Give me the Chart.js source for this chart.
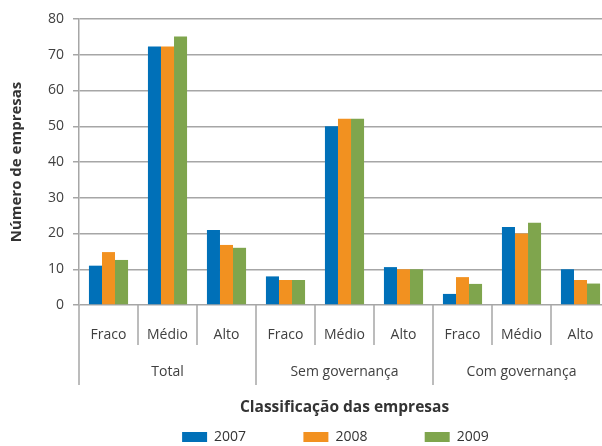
<!DOCTYPE html>
<html>
<head>
<meta charset="utf-8">
<script src="https://cdn.jsdelivr.net/npm/chart.js@4"></script>
<style>
  html, body { margin: 0; padding: 0; background: #fff; overflow: hidden; }
  #wrap { width: 610px; height: 454px; }
</style>
</head>
<body>
<div id="wrap"><canvas id="grafico"></canvas></div>
<script>
// dados
var anos = ['2007', '2008', '2009'];
var niveis = ['Fraco', 'Médio', 'Alto', 'Fraco', 'Médio', 'Alto', 'Fraco', 'Médio', 'Alto'];
var grupos = ['Total', 'Sem governança', 'Com governança'];
var valores2007 = [11, 72.3, 21, 8, 50, 10.6, 3.1, 21.8, 10];
var valores2008 = [14.8, 72.3, 16.8, 7, 52.1, 10, 7.8, 20, 7];
var valores2009 = [12.6, 75.1, 16, 7, 52.1, 10, 5.9, 23, 6];
var ticksY = [0, 10, 20, 30, 40, 50, 60, 70, 80];

var cores = ['#0070b8', '#f29120', '#7fa54d'];
var cinza = '#a6a6a6';

Chart.defaults.font.family = "'Open Sans', sans-serif";
Chart.defaults.font.size = 14;
Chart.defaults.color = '#404040';

// linhas divisórias das categorias no eixo x
var divisorias = {
    id: 'divisorias',
    afterDraw: function (chart) {
        var x = chart.scales.x;
        var ctx = chart.ctx;
        var y0 = chart.chartArea.bottom;
        ctx.save();
        ctx.strokeStyle = cinza;
        ctx.lineWidth = 1.5;
        for (var i = 0; i <= niveis.length; i++) {
            var px = x.getPixelForValue(i - 0.5);
            ctx.beginPath();
            ctx.moveTo(px, y0);
            ctx.lineTo(px, y0 + (i % 3 === 0 ? 80 : 40));
            ctx.stroke();
        }
        ctx.restore();
    }
};

var espacos = ['             ', '             ', '     '];

new Chart(document.getElementById('grafico'), {
    type: 'bar',
    data: {
        labels: niveis,
        datasets: [
            { label: anos[0], data: valores2007, backgroundColor: cores[0] },
            { label: anos[1], data: valores2008, backgroundColor: cores[1] },
            { label: anos[2], data: valores2009, backgroundColor: cores[2] }
        ]
    },
    options: {
        responsive: true,
        maintainAspectRatio: false,
        animation: false,
        layout: { padding: { top: 19, left: 0, right: 0, bottom: 0 } },
        datasets: {
            bar: { categoryPercentage: 0.663, barPercentage: 1 }
        },
        plugins: {
            tooltip: { enabled: false },
            legend: {
                position: 'bottom',
                fullSize: false,
                labels: {
                    boxWidth: 25,
                    boxHeight: 10,
                    padding: 10,
                    color: '#333',
                    font: { size: 14 },
                    generateLabels: function (chart) {
                        var itens = Chart.defaults.plugins.legend.labels.generateLabels(chart);
                        itens.forEach(function (it, i) {
                            it.text = it.text + espacos[i];
                            it.lineWidth = 0;
                        });
                        return itens;
                    }
                }
            }
        },
        scales: {
            y: {
                min: 0,
                max: 80,
                afterBuildTicks: function (s) {
                    s.ticks = ticksY.map(function (v) { return { value: v }; });
                },
                afterFit: function (s) { s.width = 79; },
                ticks: { padding: 9, color: '#404040', font: { size: 14 } },
                grid: { color: cinza, lineWidth: 1.5, tickLength: 6 },
                border: { display: true, color: cinza, width: 1.5 },
                title: {
                    display: true,
                    text: 'Número de empresas',
                    color: '#333',
                    font: { size: 15, weight: 'bold' },
                    padding: { top: 8, bottom: 0 }
                }
            },
            x: {
                afterFit: function (s) { s.height = 42; },
                grid: { display: false },
                border: { display: false },
                ticks: { padding: 14, maxRotation: 0, autoSkip: false, color: '#404040', font: { size: 14 } }
            },
            x2: {
                type: 'category',
                position: 'bottom',
                labels: grupos,
                offset: true,
                afterFit: function (s) { s.height = 73; },
                grid: { display: false },
                border: { display: false },
                ticks: { padding: 9, maxRotation: 0, autoSkip: false, color: '#404040', font: { size: 14 } },
                title: {
                    display: true,
                    text: 'Classificação das empresas',
                    color: '#333',
                    font: { size: 15.5, weight: 'bold' },
                    padding: { top: 0, bottom: 3 }
                }
            }
        }
    },
    plugins: [divisorias]
});
</script>
</body>
</html>
